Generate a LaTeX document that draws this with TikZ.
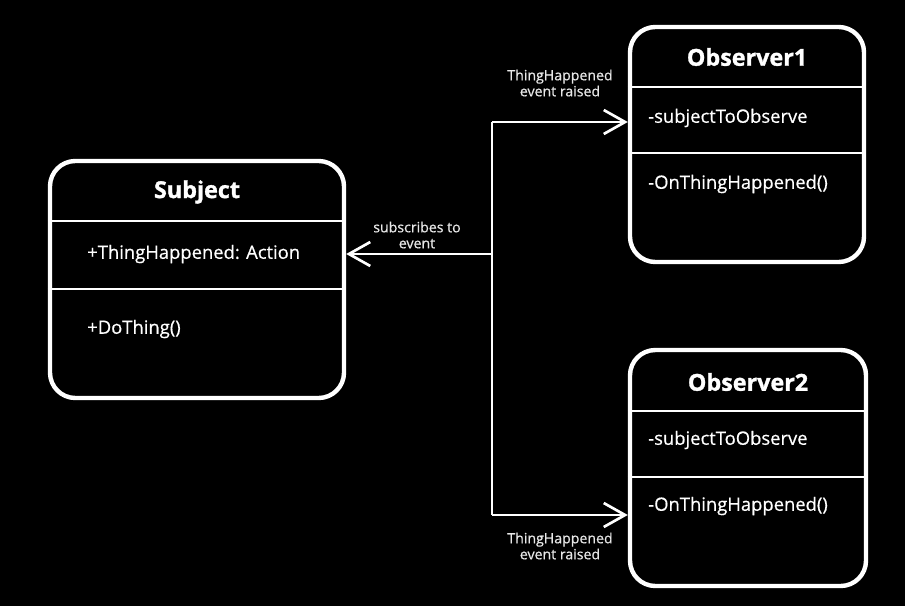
\documentclass[tikz,border=0pt]{standalone}
\usepackage{fontspec}
\setmainfont{Open Sans}
\newfontfamily\medfont{Open Sans}[FakeBold=0.6]
\newfontfamily\heavyfont{Open Sans}[FakeBold=1.2]
\usetikzlibrary{arrows.meta,positioning}
\definecolor{NoteGray}{RGB}{232,232,232}

\begin{document}
\begin{tikzpicture}[x=0.75pt,y=-0.75pt,
  classbox/.style={draw=white, line width=3.3pt, rounded corners=19pt},
  divider/.style={draw=white, line width=1.5pt},
  title/.style={text=white, font=\fontsize{17.5}{21}\heavyfont\bfseries},
  member/.style={text=white, anchor=west, inner sep=0pt, font=\fontsize{13.8}{16}\medfont},
  note/.style={text=NoteGray, align=center, font=\fontsize{10.6}{12}\medfont},
  wire/.style={draw=white, line width=1.6pt},
  tip/.style={-{Straight Barb[length=16pt,width=18pt,line width=2pt]}}]
\fill[black] (0,0) rectangle (905,606);
% class boxes
\node[classbox, minimum width=220.5pt, minimum height=177.75pt] (subj) at (197,279.5) {};
\node[classbox, minimum width=175.5pt, minimum height=176.25pt] (obsA) at (747,144.5) {};
\node[classbox, minimum width=177pt, minimum height=177pt] (obsB) at (748,468) {};
\draw[divider] (subj.west |- 0,221) -- (subj.east |- 0,221);
\draw[divider] (subj.west |- 0,289) -- (subj.east |- 0,289);
\draw[divider] (obsA.west |- 0,87) -- (obsA.east |- 0,87);
\draw[divider] (obsA.west |- 0,153) -- (obsA.east |- 0,153);
\draw[divider] (obsB.west |- 0,411) -- (obsB.east |- 0,411);
\draw[divider] (obsB.west |- 0,477) -- (obsB.east |- 0,477);
% texts
\node[title] (subjName) at (197,192) {Subject};
\node[member] (subjAttr) at (87,254) {+ThingHappened: Action};
\node[member] (subjOp) at (87,329) {+DoThing()};
\node[title] (obsAName) at (747,57) {Observer1};
\node[member] (obsAAttr) at (648,118) {-subjectToObserve};
\node[member] (obsAOp) at (648,184) {-OnThingHappened()};
\node[title] (obsBName) at (748,382) {Observer2};
\node[member] (obsBAttr) at (648,440) {-subjectToObserve};
\node[member] (obsBOp) at (648,506) {-OnThingHappened()};
% connectors
\coordinate (fork) at (492,254);
\coordinate (topBend) at (492,122);
\coordinate (botBend) at (492,515);
\draw[wire] (topBend) -- (botBend);
\draw[wire, tip] (fork) -- (subjAttr -| subj.east);
\draw[wire, tip] (topBend) -- (topBend -| obsA.west);
\draw[wire, tip] (botBend) -- (botBend -| obsB.west);
\node[note] (subLbl) at (417,235) {subscribes to\\event};
\node[note] (raiseA) at (560,83) {ThingHappened\\event raised};
\node[note] (raiseB) at (560,546) {ThingHappened\\event raised};
\end{tikzpicture}
\end{document}
